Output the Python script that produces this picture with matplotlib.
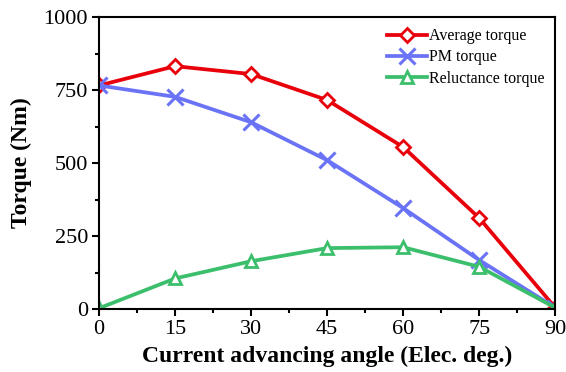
import numpy as np
import matplotlib.pyplot as plt
from matplotlib.ticker import MultipleLocator

plt.rcParams['font.family'] = 'Liberation Serif'

angle = [0, 15, 30, 45, 60, 75, 90]
avg_torque = [766, 832, 805, 716, 555, 312, 5]
pm_torque = [766, 727, 640, 510, 346, 168, 5]
rel_torque = [3, 105, 164, 209, 212, 145, 5]

fig = plt.figure(figsize=(5.66, 3.72), dpi=100)
ax = fig.add_axes([0.175, 0.169, 0.806, 0.785])

ax.plot(angle, avg_torque, color='#e8000b', lw=2.7, marker='D', ms=7.5, mfc='white', mew=2, label='Average torque')
ax.plot(angle, pm_torque, color='#6a73f5', lw=2.7, marker='x', ms=11, mew=2.2, label='PM torque')
ax.plot(angle, rel_torque, color='#3cbf6c', lw=2.7, marker='^', ms=8.5, mfc='white', mew=2, label='Reluctance torque')

ax.set_xlim(0, 90)
ax.set_ylim(0, 1000)
ax.xaxis.set_major_locator(MultipleLocator(15))
ax.xaxis.set_minor_locator(MultipleLocator(7.5))
ax.yaxis.set_major_locator(MultipleLocator(250))
ax.yaxis.set_minor_locator(MultipleLocator(125))
ax.tick_params(which='major', length=5, width=1.5, labelsize=16, pad=3)
ax.tick_params(which='minor', length=3, width=1.5)
for s in ax.spines.values():
    s.set_linewidth(1.5)

ax.set_xlabel('Current advancing angle (Elec. deg.)', fontsize=17, fontweight='bold', labelpad=5)
ax.set_ylabel('Torque (Nm)', fontsize=17, fontweight='bold', labelpad=8)

ax.legend(loc='upper right', frameon=False, fontsize=11.5, handlelength=2.5, handletextpad=0.1, labelspacing=0.32, borderaxespad=0.3)

fig.savefig('out.png', dpi=100)
